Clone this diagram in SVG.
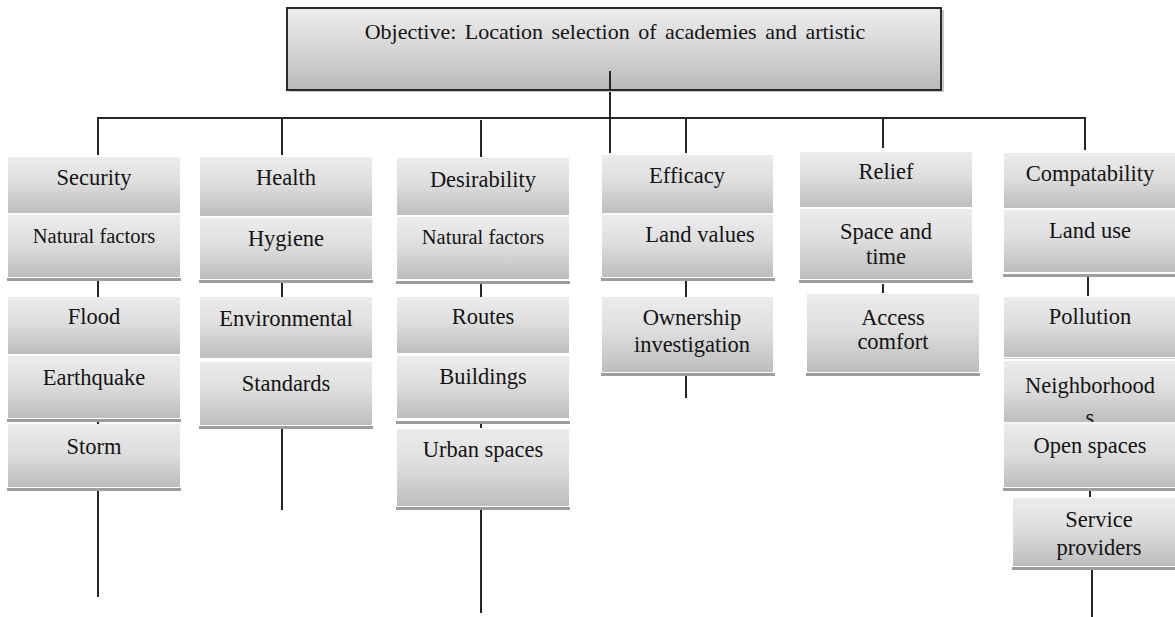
<svg xmlns="http://www.w3.org/2000/svg" width="1175" height="617" viewBox="0 0 1175 617">
<defs>
<linearGradient id="g" x1="0" y1="0" x2="0" y2="1">
<stop offset="0" stop-color="#ececec"/>
<stop offset="0.45" stop-color="#dedede"/>
<stop offset="1" stop-color="#bdbdbd"/>
</linearGradient>
<linearGradient id="gt" x1="0" y1="0" x2="0" y2="1">
<stop offset="0" stop-color="#ededed"/>
<stop offset="0.5" stop-color="#d6d6d6"/>
<stop offset="1" stop-color="#b9b9b9"/>
</linearGradient>
</defs>
<rect width="1175" height="617" fill="#ffffff"/>

<g id="connectors" stroke="#262626" stroke-width="2" fill="none">
<path d="M98,118 H1085 M98,117 V155 M282,118 V155 M481,120 V157 M610,71 V153 M686,118 V153 M883,118 V148 M1085,117 V150"/>
<path d="M98,281 V297 M98,419 V424 M98,491 V597"/>
<path d="M282,283 V297 M282,428 V510"/>
<path d="M481,284 V297 M481,421 V428 M481,510 V613"/>
<path d="M686,281 V297 M686,376 V398"/>
<path d="M883,284 V293"/>
<path d="M1088,277 V296 M1090,491 V497 M1092,570 V617"/>
</g>

<g id="objective">
<rect x="289" y="10" width="655" height="82" fill="#c8c8c8"/>
<rect x="287" y="8" width="654" height="82" fill="url(#gt)" stroke="#2a2a2a" stroke-width="2"/>
<line x1="610" y1="71" x2="610" y2="90" stroke="#262626" stroke-width="2"/>
<text x="615" y="39" font-family="Liberation Serif" font-size="22" fill="#141414" text-anchor="middle" word-spacing="3">Objective: Location selection of academies and artistic</text>
</g>

<g id="security">
<rect x="7" y="278" width="174" height="3" fill="#9d9d9d"/>
<rect x="8" y="157" width="172" height="56" fill="url(#g)"/>
<rect x="8" y="215" width="172" height="62" fill="url(#g)"/>
<text x="94" y="185" font-family="Liberation Serif" font-size="22.5" fill="#141414" text-anchor="middle">Security</text>
<text x="94" y="243" font-family="Liberation Serif" font-size="20.5" fill="#141414" text-anchor="middle">Natural factors</text>
</g>
<g id="security-hazards">
<rect x="7" y="419" width="174" height="3" fill="#9d9d9d"/>
<rect x="8" y="297" width="172" height="57" fill="url(#g)"/>
<rect x="8" y="356" width="172" height="62" fill="url(#g)"/>
<text x="94" y="324" font-family="Liberation Serif" font-size="22.5" fill="#141414" text-anchor="middle">Flood</text>
<text x="94" y="385" font-family="Liberation Serif" font-size="22.5" fill="#141414" text-anchor="middle">Earthquake</text>
</g>
<g id="storm">
<rect x="7" y="488" width="174" height="3" fill="#9d9d9d"/>
<rect x="8" y="424" width="172" height="63" fill="url(#g)"/>
<text x="94" y="454" font-family="Liberation Serif" font-size="22.5" fill="#141414" text-anchor="middle">Storm</text>
</g>

<g id="health">
<rect x="199" y="280" width="174" height="3" fill="#9d9d9d"/>
<rect x="200" y="157" width="172" height="59" fill="url(#g)"/>
<rect x="200" y="218" width="172" height="61" fill="url(#g)"/>
<text x="286" y="185" font-family="Liberation Serif" font-size="22.5" fill="#141414" text-anchor="middle">Health</text>
<text x="286" y="246" font-family="Liberation Serif" font-size="22.5" fill="#141414" text-anchor="middle">Hygiene</text>
</g>
<g id="health-standards">
<rect x="199" y="426" width="174" height="3" fill="#9d9d9d"/>
<rect x="200" y="297" width="172" height="61" fill="url(#g)"/>
<rect x="200" y="362" width="172" height="63" fill="url(#g)"/>
<text x="286" y="326" font-family="Liberation Serif" font-size="22.5" fill="#141414" text-anchor="middle">Environmental</text>
<text x="286" y="391" font-family="Liberation Serif" font-size="22.5" fill="#141414" text-anchor="middle">Standards</text>
</g>

<g id="desirability">
<rect x="396" y="281" width="174" height="3" fill="#9d9d9d"/>
<rect x="397" y="158" width="172" height="57" fill="url(#g)"/>
<rect x="397" y="217" width="172" height="62" fill="url(#g)"/>
<text x="483" y="187" font-family="Liberation Serif" font-size="22.5" fill="#141414" text-anchor="middle">Desirability</text>
<text x="483" y="244" font-family="Liberation Serif" font-size="20.5" fill="#141414" text-anchor="middle">Natural factors</text>
</g>
<g id="desirability-routes">
<rect x="396" y="421" width="174" height="3" fill="#9d9d9d"/>
<rect x="397" y="297" width="172" height="56" fill="url(#g)"/>
<rect x="397" y="356" width="172" height="62" fill="url(#g)"/>
<text x="483" y="324" font-family="Liberation Serif" font-size="22.5" fill="#141414" text-anchor="middle">Routes</text>
<text x="483" y="384" font-family="Liberation Serif" font-size="22.5" fill="#141414" text-anchor="middle">Buildings</text>
</g>
<g id="urban-spaces">
<rect x="396" y="507" width="174" height="3" fill="#9d9d9d"/>
<rect x="397" y="429" width="172" height="77" fill="url(#g)"/>
<text x="483" y="457" font-family="Liberation Serif" font-size="22.5" fill="#141414" text-anchor="middle">Urban spaces</text>
</g>

<g id="efficacy">
<rect x="601" y="278" width="174" height="3" fill="#9d9d9d"/>
<rect x="602" y="155" width="171" height="58" fill="url(#g)"/>
<rect x="602" y="215" width="171" height="62" fill="url(#g)"/>
<text x="687" y="183" font-family="Liberation Serif" font-size="22.5" fill="#141414" text-anchor="middle">Efficacy</text>
<text x="700" y="242" font-family="Liberation Serif" font-size="22.5" fill="#141414" text-anchor="middle">Land values</text>
</g>
<g id="ownership">
<rect x="601" y="373" width="174" height="3" fill="#9d9d9d"/>
<rect x="602" y="297" width="171" height="75" fill="url(#g)"/>
<text x="692" y="325" font-family="Liberation Serif" font-size="22.5" fill="#141414" text-anchor="middle">Ownership</text>
<text x="692" y="352" font-family="Liberation Serif" font-size="22.5" fill="#141414" text-anchor="middle">investigation</text>
</g>

<g id="relief">
<rect x="799" y="280" width="174" height="3" fill="#9d9d9d"/>
<rect x="800" y="152" width="172" height="55" fill="url(#g)"/>
<rect x="800" y="209" width="172" height="70" fill="url(#g)"/>
<text x="886" y="179" font-family="Liberation Serif" font-size="22.5" fill="#141414" text-anchor="middle">Relief</text>
<text x="886" y="239" font-family="Liberation Serif" font-size="22.5" fill="#141414" text-anchor="middle">Space and</text>
<text x="886" y="264" font-family="Liberation Serif" font-size="22.5" fill="#141414" text-anchor="middle">time</text>
</g>
<g id="access-comfort">
<rect x="806" y="373" width="174" height="3" fill="#9d9d9d"/>
<rect x="807" y="294" width="172" height="78" fill="url(#g)"/>
<text x="893" y="325" font-family="Liberation Serif" font-size="22.5" fill="#141414" text-anchor="middle">Access</text>
<text x="893" y="349" font-family="Liberation Serif" font-size="22.5" fill="#141414" text-anchor="middle">comfort</text>
</g>

<g id="compatability">
<rect x="1003" y="274" width="174" height="3" fill="#9d9d9d"/>
<rect x="1004" y="153" width="172" height="55" fill="url(#g)"/>
<rect x="1004" y="210" width="172" height="62" fill="url(#g)"/>
<text x="1090" y="181" font-family="Liberation Serif" font-size="22.5" fill="#141414" text-anchor="middle">Compatability</text>
<text x="1090" y="238" font-family="Liberation Serif" font-size="22.5" fill="#141414" text-anchor="middle">Land use</text>
</g>
<g id="compatability-list">
<rect x="1003" y="488" width="174" height="3" fill="#9d9d9d"/>
<rect x="1004" y="297" width="172" height="60" fill="url(#g)"/>
<rect x="1004" y="358" width="172" height="1" fill="#cfcfcf"/>
<rect x="1004" y="361" width="172" height="61" fill="url(#g)"/>
<text x="1090" y="324" font-family="Liberation Serif" font-size="22.5" fill="#141414" text-anchor="middle">Pollution</text>
<text x="1090" y="393" font-family="Liberation Serif" font-size="22.5" fill="#141414" text-anchor="middle">Neighborhood</text>
<text x="1090" y="425" font-family="Liberation Serif" font-size="22.5" fill="#141414" text-anchor="middle">s</text>
<rect x="1004" y="422" width="172" height="2" fill="#f6f6f6"/>
<rect x="1004" y="424" width="172" height="63" fill="url(#g)"/>
<text x="1090" y="453" font-family="Liberation Serif" font-size="22.5" fill="#141414" text-anchor="middle">Open spaces</text>
</g>
<g id="service-providers">
<rect x="1012" y="567" width="174" height="3" fill="#9d9d9d"/>
<rect x="1013" y="498" width="172" height="68" fill="url(#g)"/>
<text x="1099" y="527" font-family="Liberation Serif" font-size="22.5" fill="#141414" text-anchor="middle">Service</text>
<text x="1099" y="555" font-family="Liberation Serif" font-size="22.5" fill="#141414" text-anchor="middle">providers</text>
</g>
</svg>
